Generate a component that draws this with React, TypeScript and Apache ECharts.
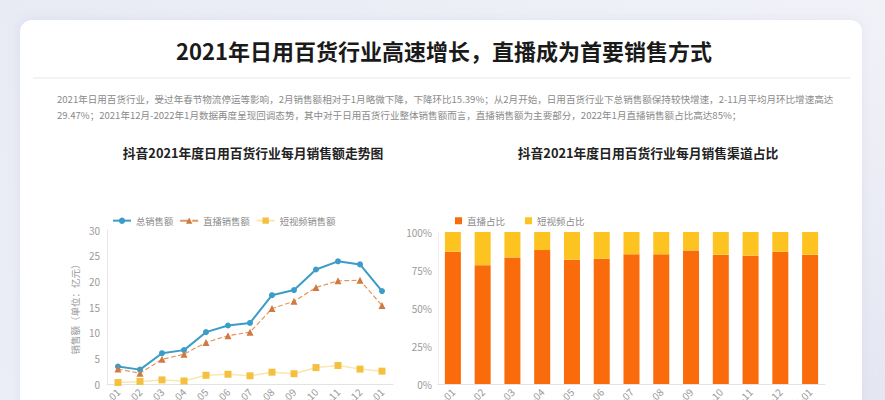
import React, { useEffect, useRef } from "react";
import * as echarts from "echarts";

const months = ["2021-01", "2021-02", "2021-03", "2021-04", "2021-05", "2021-06", "2021-07", "2021-08", "2021-09", "2021-10", "2021-11", "2021-12", "2022-01"];
const totalSales = [3.4, 2.8, 6.0, 6.6, 10.1, 11.4, 11.9, 17.3, 18.3, 22.3, 23.9, 23.3, 18.1];
const liveSales = [2.9, 2.1, 4.8, 5.8, 8.1, 9.4, 10.1, 14.7, 16.1, 18.8, 20.1, 20.2, 15.3];
const shortVideoSales = [0.3, 0.5, 0.8, 0.6, 1.7, 1.9, 1.6, 2.3, 2.0, 3.2, 3.6, 2.9, 2.5];
const liveShare = [87.0, 78.2, 83.3, 88.1, 81.8, 82.4, 85.3, 85.3, 87.9, 85.1, 84.4, 87.0, 85.1];
const shortVideoShare = [13.0, 21.8, 16.7, 11.9, 18.2, 17.6, 14.7, 14.7, 12.1, 14.9, 15.6, 13.0, 14.9];

const mainTitle = "2021年日用百货行业高速增长，直播成为首要销售方式";
const descLine1 = "2021年日用百货行业，受过年春节物流停运等影响，2月销售额相对于1月略微下降，下降环比15.39%；从2月开始，日用百货行业下总销售额保持较快增速，2-11月平均月环比增速高达";
const descLine2 = "29.47%；2021年12月-2022年1月数据再度呈现回调态势，其中对于日用百货行业整体销售额而言，直播销售额为主要部分，2022年1月直播销售额占比高达85%；";
const leftTitle = "抖音2021年度日用百货行业每月销售额走势图";
const rightTitle = "抖音2021年度日用百货行业每月销售渠道占比";

const FONT = "'Noto Sans CJK SC', 'Noto Sans', sans-serif";

export default function App() {
  const ref = useRef<HTMLDivElement>(null);
  useEffect(() => {
    document.body.style.margin = "0";
    const chart = echarts.init(ref.current!, undefined, { renderer: "svg" });
    const axisLabel = { color: "#9a9a9a", fontSize: 10, fontFamily: FONT };
    const option: any = {
      animation: false,
      textStyle: { fontFamily: FONT },
      graphic: [
        {
          type: "rect",
          shape: { x: 20, y: 20, width: 842, height: 420, r: 12 },
          style: { fill: "#ffffff", shadowBlur: 12, shadowColor: "rgba(150,155,190,0.18)" },
          z: -10,
        },
        {
          type: "line",
          shape: { x1: 33, y1: 78, x2: 850, y2: 78 },
          style: { stroke: "#e6e6e6", lineWidth: 1 },
        },
        {
          type: "text",
          x: 444,
          y: 50,
          style: { text: mainTitle, font: `bold 22px ${FONT}`, fill: "#1a1a1a", align: "center", verticalAlign: "middle" },
        },
        {
          type: "text",
          x: 57,
          y: 99,
          style: { text: descLine1, font: `9.55px ${FONT}`, fill: "#8a8a8a", align: "left", verticalAlign: "middle" },
        },
        {
          type: "text",
          x: 57,
          y: 115,
          style: { text: descLine2, font: `9.55px ${FONT}`, fill: "#8a8a8a", align: "left", verticalAlign: "middle" },
        },
        {
          type: "text",
          x: 253,
          y: 152,
          style: { text: leftTitle, font: `bold 12.8px ${FONT}`, fill: "#222", align: "center", verticalAlign: "middle" },
        },
        {
          type: "text",
          x: 648,
          y: 152,
          style: { text: rightTitle, font: `bold 12.8px ${FONT}`, fill: "#222", align: "center", verticalAlign: "middle" },
        },
      ],
      legend: [
        {
          left: 107,
          top: 211,
          itemWidth: 18,
          itemHeight: 8,
          itemGap: 6,
          textStyle: { color: "#8a8a8a", fontSize: 9.3, fontFamily: FONT },
          data: ["总销售额", "直播销售额", "短视频销售额"],
        },
        {
          left: 450,
          top: 211,
          itemWidth: 7,
          itemHeight: 7,
          itemGap: 20,
          icon: "rect",
          textStyle: { color: "#8a8a8a", fontSize: 9.5, fontFamily: FONT },
          data: ["直播占比", "短视频占比"],
        },
      ],
      grid: [
        { left: 107, right: 492, top: 230, bottom: 16, outerBoundsMode: "none", containLabel: false },
        { left: 438, right: 60, top: 232, bottom: 16, outerBoundsMode: "none", containLabel: false },
      ],
      xAxis: [
        {
          type: "category",
          gridIndex: 0,
          data: months,
          axisLine: { lineStyle: { color: "#e3e3e3" } },
          axisTick: { show: false },
          axisLabel: { ...axisLabel, rotate: 45, interval: 0, margin: 6 },
        },
        {
          type: "category",
          gridIndex: 1,
          data: months,
          axisLine: { lineStyle: { color: "#e3e3e3" } },
          axisTick: { show: false },
          axisLabel: { ...axisLabel, rotate: 45, interval: 0, margin: 6 },
        },
      ],
      yAxis: [
        {
          type: "value",
          gridIndex: 0,
          min: 0,
          max: 30,
          interval: 5,
          name: "销售额（单位：亿元）",
          nameLocation: "middle",
          nameRotate: 90,
          nameGap: 27,
          nameTextStyle: { color: "#9a9a9a", fontSize: 9.5, fontFamily: FONT },
          axisLine: { show: true, lineStyle: { color: "#e8e8e8" } },
          axisTick: { show: false },
          splitLine: { show: false },
          axisLabel: { ...axisLabel, margin: 7 },
        },
        {
          type: "value",
          gridIndex: 1,
          min: 0,
          max: 100,
          interval: 25,
          axisLine: { show: true, lineStyle: { color: "#eeeeee" } },
          axisTick: { show: false },
          splitLine: { show: false },
          axisLabel: { ...axisLabel, margin: 6, formatter: "{value}%" },
        },
      ],
      series: [
        {
          name: "总销售额",
          type: "line",
          xAxisIndex: 0,
          yAxisIndex: 0,
          data: totalSales,
          symbol: "circle",
          symbolSize: 6,
          color: "#3a9cc8",
          lineStyle: { width: 2, color: "#3a9cc8" },
          itemStyle: { color: "#3a9cc8" },
        },
        {
          name: "直播销售额",
          type: "line",
          xAxisIndex: 0,
          yAxisIndex: 0,
          data: liveSales,
          symbol: "triangle",
          symbolSize: 7,
          color: "#cf7a42",
          lineStyle: { width: 1.2, type: "dashed", color: "#e3955c" },
          itemStyle: { color: "#cf7a42" },
        },
        {
          name: "短视频销售额",
          type: "line",
          xAxisIndex: 0,
          yAxisIndex: 0,
          data: shortVideoSales,
          symbol: "rect",
          symbolSize: 7,
          color: "#f4c03e",
          lineStyle: { width: 1.5, color: "#fae7b0" },
          itemStyle: { color: "#f4c03e" },
        },
        {
          name: "直播占比",
          type: "bar",
          xAxisIndex: 1,
          yAxisIndex: 1,
          stack: "share",
          data: liveShare,
          barWidth: 16,
          itemStyle: { color: "#f96b0b" },
        },
        {
          name: "短视频占比",
          type: "bar",
          xAxisIndex: 1,
          yAxisIndex: 1,
          stack: "share",
          data: shortVideoShare,
          barWidth: 16,
          itemStyle: { color: "#fdc320" },
        },
      ],
    };
    chart.setOption(option);
    return () => chart.dispose();
  }, []);
  return (
    <div
      style={{
        position: "absolute",
        left: 0,
        top: 0,
        width: 885,
        height: 400,
        overflow: "hidden",
        background: "linear-gradient(135deg, #e8eaf4 0%, #eef0f8 45%, #f1f2f8 70%, #e4e6f2 100%)",
      }}
    >
      <div ref={ref} style={{ width: 885, height: 400 }} />
    </div>
  );
}
